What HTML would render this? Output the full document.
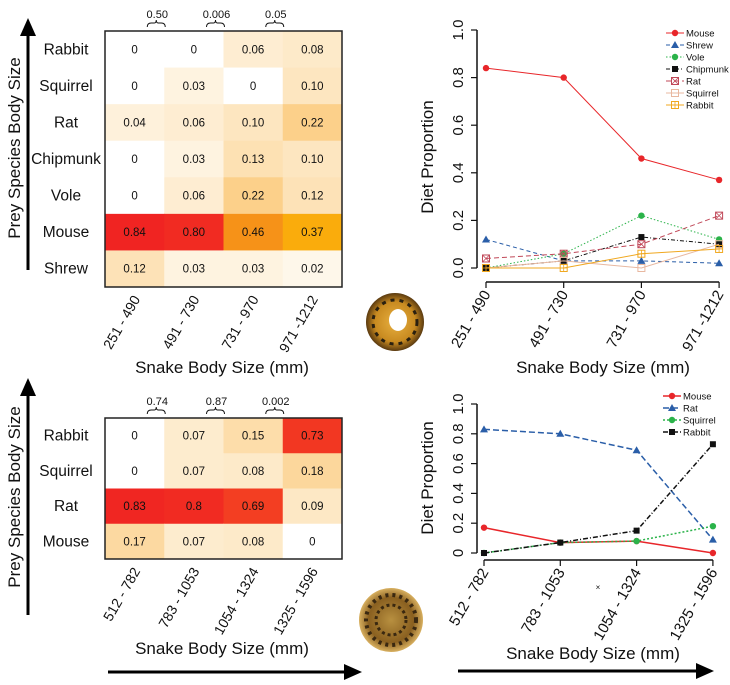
<!DOCTYPE html>
<html><head><meta charset="utf-8"><style>
html,body{margin:0;padding:0;background:#fff;}
svg{display:block;font-family:"Liberation Sans",Arial,sans-serif;}
</style></head><body>
<svg id="fig" width="730" height="685" viewBox="0 0 730 685">
<defs>
<radialGradient id="sn1" cx="50%" cy="50%" r="50%"><stop offset="0" stop-color="#e8b040"/><stop offset="0.7" stop-color="#c88a20"/><stop offset="1" stop-color="#5a3a10"/></radialGradient>
<radialGradient id="sn2" cx="50%" cy="50%" r="50%"><stop offset="0" stop-color="#b89040"/><stop offset="0.7" stop-color="#8a6020"/><stop offset="1" stop-color="#d8b060"/></radialGradient>
</defs>
</svg>
<script>
// ---- data ----
const hmTopRows = ["Rabbit","Squirrel","Rat","Chipmunk","Vole","Mouse","Shrew"];
const hmTopCols = ["251 - 490","491 - 730","731 - 970","971 -1212"];
const hmTopVals = [
 [0,0,0.06,0.08],
 [0,0.03,0,0.10],
 [0.04,0.06,0.10,0.22],
 [0,0.03,0.13,0.10],
 [0,0.06,0.22,0.12],
 [0.84,0.80,0.46,0.37],
 [0.12,0.03,0.03,0.02]];
const hmTopLabels = [
 ["0","0","0.06","0.08"],["0","0.03","0","0.10"],["0.04","0.06","0.10","0.22"],
 ["0","0.03","0.13","0.10"],["0","0.06","0.22","0.12"],["0.84","0.80","0.46","0.37"],["0.12","0.03","0.03","0.02"]];
const hmTopP = ["0.50","0.006","0.05"];
const hmBotRows = ["Rabbit","Squirrel","Rat","Mouse"];
const hmBotCols = ["512 - 782","783 - 1053","1054 - 1324","1325 - 1596"];
const hmBotVals = [[0,0.07,0.15,0.73],[0,0.07,0.08,0.18],[0.83,0.8,0.69,0.09],[0.17,0.07,0.08,0]];
const hmBotLabels = [["0","0.07","0.15","0.73"],["0","0.07","0.08","0.18"],["0.83","0.8","0.69","0.09"],["0.17","0.07","0.08","0"]];
const hmBotP = ["0.74","0.87","0.002"];

const lnTopNames = ["Mouse","Shrew","Vole","Chipmunk","Rat","Squirrel","Rabbit"];
const lnTopMouse = [0.84,0.80,0.46,0.37];
const lnTopShrew = [0.12,0.03,0.03,0.02];
const lnTopVole = [0,0.06,0.22,0.12];
const lnTopChipmunk = [0,0.03,0.13,0.10];
const lnTopRat = [0.04,0.06,0.10,0.22];
const lnTopSquirrel = [0,0.03,0,0.10];
const lnTopRabbit = [0,0,0.06,0.08];
const lnTopTicks = ["0.0","0.2","0.4","0.6","0.8","1.0"];
const lnBotNames = ["Mouse","Rat","Squirrel","Rabbit"];
const lnBotMouse = [0.17,0.07,0.08,0];
const lnBotRat = [0.83,0.80,0.69,0.09];
const lnBotSquirrel = [0,0.07,0.08,0.18];
const lnBotRabbit = [0,0.07,0.15,0.73];
const lnBotTicks = ["0","0.2","0.4","0.6","0.8","1.0"];

const NS="http://www.w3.org/2000/svg";
const svg=document.getElementById('fig');
function mk(tag,attrs,parent,text){const e=document.createElementNS(NS,tag);for(const k in attrs)e.setAttribute(k,attrs[k]);if(text!==undefined)e.textContent=text;(parent||svg).appendChild(e);return e;}

const stops=[[0,[255,255,255]],[0.03,[254,243,224]],[0.1,[253,230,192]],[0.22,[252,208,138]],[0.37,[250,172,12]],[0.46,[246,146,24]],[0.69,[243,62,34]],[0.85,[240,34,34]],[1,[230,20,20]]];
function col(v){for(let i=1;i<stops.length;i++){if(v<=stops[i][0]){const a=stops[i-1],b=stops[i],t=(v-a[0])/(b[0]-a[0]);return 'rgb('+a[1].map((c,j)=>Math.round(c+(b[1][j]-c)*t)).join(',')+')';}}return 'rgb(230,20,20)';}

function heatmap(rows,cols,vals,labels,pvals,x0,y0,x1,y1,name){
  const g=mk('g',{});
  
  
  const cw=(x1-x0)/cols.length, rh=(y1-y0)/rows.length;
  rows.forEach((r,i)=>{
    const t=mk('text',{x:66,y:y0+rh*i+rh/2+5,'font-size':15.5,'text-anchor':'middle',fill:'#111'},g,r);
    
    
    cols.forEach((c,j)=>{
      const rc=mk('rect',{x:x0+cw*j,y:y0+rh*i,width:cw+0.5,height:rh+0.5,fill:col(vals[i][j])},g);
      
      
      const ct=mk('text',{x:x0+cw*j+cw/2,y:y0+rh*i+rh/2+4,'font-size':11.5,'text-anchor':'middle',fill:'#111'},g,labels[i][j]);
      
      
    });
  });
  const fr=mk('rect',{x:x0,y:y0,width:x1-x0,height:y1-y0,fill:'none',stroke:'#222','stroke-width':1.5},g);
  
  
  cols.forEach((c,j)=>{
    const cx=x0+cw*j+cw/2+6, cy=y1+12;
    const t=mk('text',{x:cx,y:cy,'font-size':14,'text-anchor':'end',transform:'rotate(-60 '+cx+' '+cy+')',fill:'#111'},g,c);
    
    
  });
  pvals.forEach((p,j)=>{
    const bx=x0+cw*(j+1)-8;
    const t=mk('text',{x:bx+1,y:y0-13,'font-size':11,'text-anchor':'middle',fill:'#111'},g,p);
    
    
    const b=mk('path',{d:'M'+(bx-9)+','+(y0-4)+' q0,-4 4,-4 h3 q2,0 2,-3 q0,3 2,3 h3 q4,0 4,4',fill:'none',stroke:'#111','stroke-width':1},g);
    
    
  });
}
heatmap(hmTopRows,hmTopCols,hmTopVals,hmTopLabels,hmTopP,105,31,342,287,'top-heatmap');
heatmap(hmBotRows,hmBotCols,hmBotVals,hmBotLabels,hmBotP,105,418,342,559,'bottom-heatmap');

function marker(g,shape,x,y,c){
  if(shape==='circle')return mk('circle',{cx:x,cy:y,r:3.2,fill:c},g);
  if(shape==='tri')return mk('path',{d:`M${x},${y-4} L${x+4},${y+3} L${x-4},${y+3} Z`,fill:c},g);
  if(shape==='sq')return mk('rect',{x:x-3,y:y-3,width:6,height:6,fill:c},g);
  if(shape==='sqx'){const q=mk('g',{},g);mk('rect',{x:x-3.5,y:y-3.5,width:7,height:7,fill:'none',stroke:c},q);mk('path',{d:`M${x-3.5},${y-3.5}L${x+3.5},${y+3.5}M${x+3.5},${y-3.5}L${x-3.5},${y+3.5}`,stroke:c,'stroke-width':0.8},q);return q;}
  if(shape==='sqo')return mk('rect',{x:x-3.5,y:y-3.5,width:7,height:7,fill:'none',stroke:c},g);
  if(shape==='sqp'){const q=mk('g',{},g);mk('rect',{x:x-3.5,y:y-3.5,width:7,height:7,fill:'none',stroke:c},q);mk('path',{d:`M${x},${y-3.5}V${y+3.5}M${x-3.5},${y}H${x+3.5}`,stroke:c,'stroke-width':0.8},q);return q;}
}

function linechart(cfg){
  const {xs,y0,y1,axisX,axisY,cats,series,ticks,lx,ly,name}=cfg;
  const g=mk('g',{});
  
  
  const Y=v=>y0+(y1-y0)*v;
  const X=i=>xs[0]+(xs[1]-xs[0])*i;
  const ya=mk('path',{d:`M${axisX},${Y(0)} V${Y(1)}`,stroke:'#111','stroke-width':1.5,fill:'none'},g);
  
  
  ticks.forEach((t,i)=>{
    const v=i/(ticks.length-1), y=Y(v);
    mk('path',{d:`M${axisX-6},${y}H${axisX}`,stroke:'#111','stroke-width':1.2},g);
    const tx=axisX-14;
    const tt=mk('text',{x:tx,y:y,'font-size':15,'text-anchor':'middle',transform:`rotate(-90 ${tx} ${y})`,fill:'#111'},g,t);
    
    
  });
  const xa=mk('path',{d:`M${X(0)},${axisY}H${X(cats.length-1)}`,stroke:'#111','stroke-width':1.5},g);
  
  
  cats.forEach((c,i)=>{
    const x=X(i);
    mk('path',{d:`M${x},${axisY}V${axisY+6}`,stroke:'#111','stroke-width':1.2},g);
    const cx=x+5, cy=axisY+12;
    const t=mk('text',{x:cx,y:cy,'font-size':15,'text-anchor':'end',transform:`rotate(-60 ${cx} ${cy})`,fill:'#111'},g,c);
    
    
  });
  series.forEach((s,k)=>{
    const pts=s.vals.map((v,i)=>X(i)+','+Y(v)).join(' ');
    const pl=mk('polyline',{points:pts,fill:'none',stroke:s.c,'stroke-width':s.w||1,'stroke-dasharray':s.d||''},g);
    
    
    s.vals.forEach((v,i)=>{const m=marker(g,s.m,X(i),Y(v),s.c);
      
      });
    const ey=ly+k*12;
    const lg=mk('g',{},g);
    
    
    mk('path',{d:`M${lx},${ey}h18`,stroke:s.c,'stroke-width':s.w||1,'stroke-dasharray':s.d||''},lg);
    marker(lg,s.m,lx+9,ey,s.c);
    mk('text',{x:lx+20,y:ey+3.5,'font-size':9.5,fill:'#111'},lg,s.n);
  });
}
linechart({name:'top-line-chart',xs:[486,563.7],y0:268,y1:30,axisX:477,axisY:282,cats:hmTopCols,ticks:lnTopTicks,lx:666,ly:33,
 series:[
  {n:lnTopNames[0],vals:lnTopMouse,c:'#e8262a',m:'circle'},
  {n:lnTopNames[1],vals:lnTopShrew,c:'#2a5ea8',m:'tri',d:'4,3'},
  {n:lnTopNames[2],vals:lnTopVole,c:'#2bb34a',m:'circle',d:'1.5,2'},
  {n:lnTopNames[3],vals:lnTopChipmunk,c:'#111',m:'sq',d:'4,2,1,2'},
  {n:lnTopNames[4],vals:lnTopRat,c:'#c04858',m:'sqx',d:'5,3'},
  {n:lnTopNames[5],vals:lnTopSquirrel,c:'#e8b8a0',m:'sqo'},
  {n:lnTopNames[6],vals:lnTopRabbit,c:'#f0a820',m:'sqp'}]});
linechart({name:'bottom-line-chart',xs:[484,560.3],y0:553,y1:404,axisX:477,axisY:560,cats:hmBotCols,ticks:lnBotTicks,lx:663,ly:396,
 series:[
  {n:lnBotNames[0],vals:lnBotMouse,c:'#e8262a',m:'circle',w:1.5},
  {n:lnBotNames[1],vals:lnBotRat,c:'#2a5ea8',m:'tri',d:'6,3',w:1.5},
  {n:lnBotNames[2],vals:lnBotSquirrel,c:'#2bb34a',m:'circle',d:'2,2',w:1.5},
  {n:lnBotNames[3],vals:lnBotRabbit,c:'#111',m:'sq',d:'5,2,1,2',w:1.5}]});

function txt(x,y,s,str,name,rot){const a={x:x,y:y,'font-size':s,'text-anchor':'middle',fill:'#111'};if(rot)a.transform=`rotate(-90 ${x} ${y})`;const t=mk('text',a,svg,str);return t;}
txt(222,373,17,'Snake Body Size (mm)','top-x-title');
txt(222,654,17,'Snake Body Size (mm)','bottom-x-title');
txt(603,373,17,'Snake Body Size (mm)','top-right-x-title');
txt(593,659,17,'Snake Body Size (mm)','bottom-right-x-title');
txt(20,148,17,'Prey Species Body Size','top-y-title',true);
txt(20,497,17,'Prey Species Body Size','bottom-y-title',true);
txt(433,157,17,'Diet Proportion','top-right-y-title',true);
txt(433,478,17,'Diet Proportion','bottom-right-y-title',true);
txt(598,590,8,'×','stray-mark');

function arrow(d,name){const p=mk('path',{d:d,stroke:'#000','stroke-width':3,fill:'none'});}
arrow('M28,270 V32','top-y-arrow');
mk('path',{d:'M28,18 L20,36 L36,36 Z',fill:'#000'});
arrow('M28,615 V392','bottom-y-arrow');
mk('path',{d:'M28,378 L20,396 L36,396 Z',fill:'#000'});
arrow('M108,672 H348','bottom-left-x-arrow');
mk('path',{d:'M362,672 L344,664 L344,680 Z',fill:'#000'});
arrow('M458,671 H700','bottom-right-x-arrow');
mk('path',{d:'M714,671 L696,663 L696,679 Z',fill:'#000'});

const s1=mk('g',{});


mk('circle',{cx:395,cy:322,r:29,fill:'url(#sn1)'},s1);
mk('circle',{cx:395,cy:322,r:22,fill:'none',stroke:'#2a2010','stroke-width':3,'stroke-dasharray':'4,5'},s1);
mk('ellipse',{cx:398,cy:320,rx:9,ry:11,fill:'#fff'},s1);
const s2=mk('g',{});


mk('circle',{cx:391,cy:620,r:32,fill:'url(#sn2)'},s2);
mk('circle',{cx:391,cy:620,r:25,fill:'none',stroke:'#3a2810','stroke-width':4,'stroke-dasharray':'3,4'},s2);
mk('circle',{cx:391,cy:620,r:15,fill:'none',stroke:'#3a2810','stroke-width':3,'stroke-dasharray':'3,3'},s2);
</script>
</body></html>
